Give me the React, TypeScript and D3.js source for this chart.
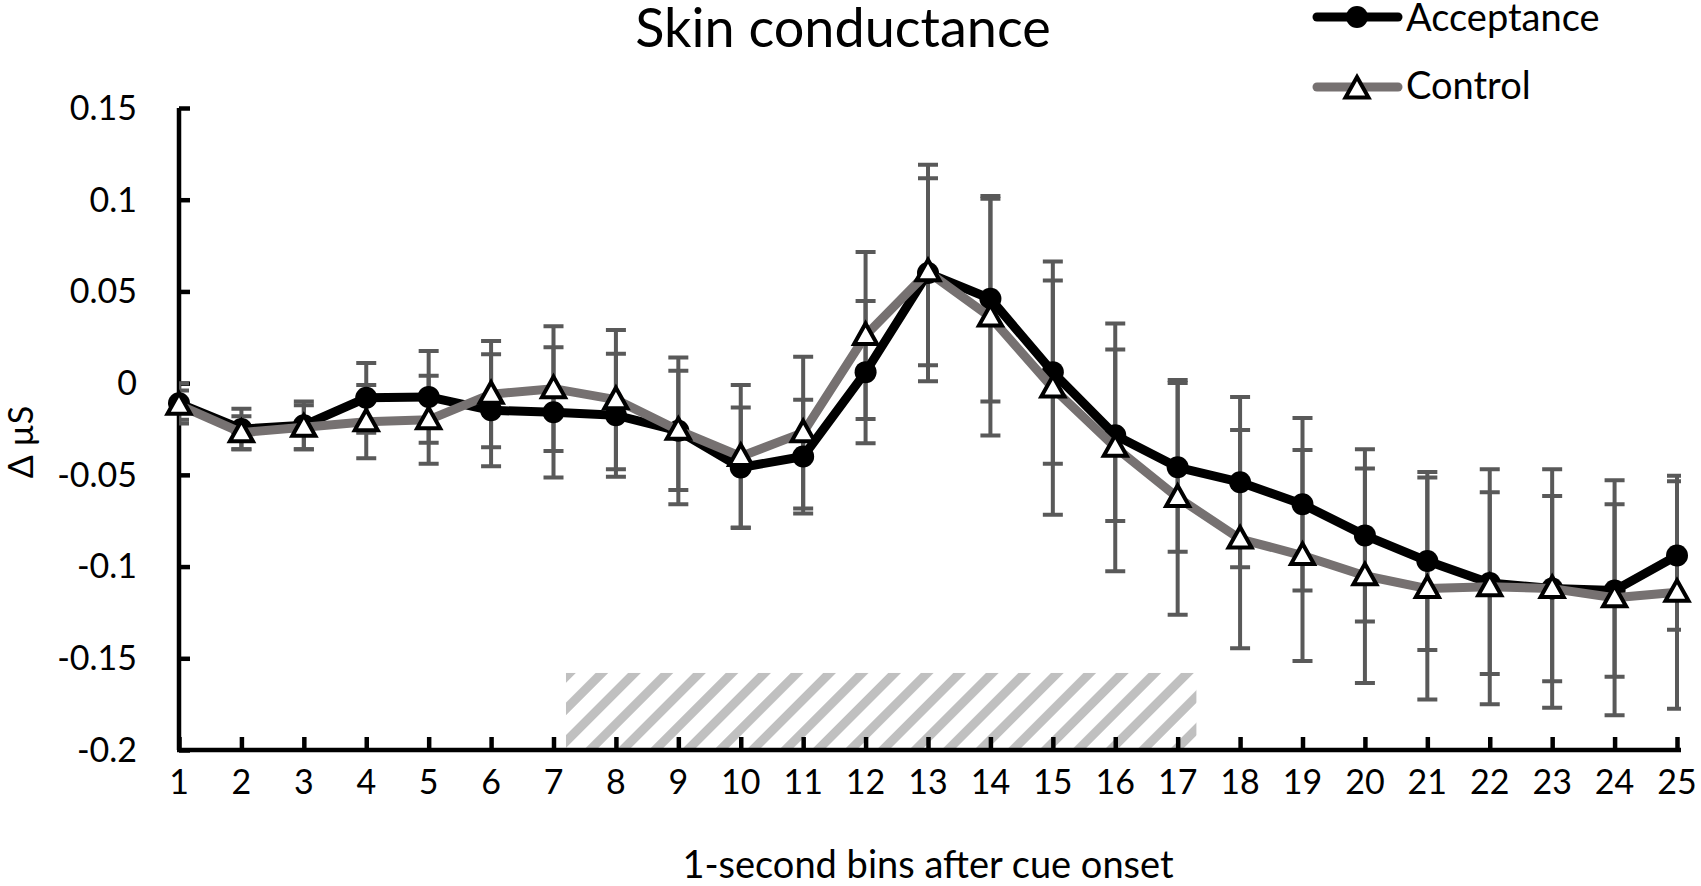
import { useEffect, useRef } from "react";
import * as d3 from "d3";

// 1-second bins after cue onset
const bins = d3.range(1, 26);
const yTicks = [0.15, 0.1, 0.05, 0, -0.05, -0.1, -0.15, -0.2];

// mean change in skin conductance (µS)
const acceptance = [
  -0.011, -0.025, -0.023, -0.008, -0.0075, -0.0148, -0.0159, -0.0175, -0.026,
  -0.046, -0.04, 0.006, 0.06, 0.046, 0.006, -0.0284, -0.0459, -0.054, -0.066,
  -0.083, -0.097, -0.109, -0.112, -0.113, -0.094,
];
const control = [
  -0.012, -0.027, -0.024, -0.021, -0.02, -0.006, -0.003, -0.009, -0.0257,
  -0.04, -0.027, 0.026, 0.0607, 0.036, -0.0027, -0.035, -0.0623, -0.085,
  -0.094, -0.105, -0.112, -0.111, -0.112, -0.117, -0.114,
];
// error bar half widths
const acceptanceErr = [
  0.011, 0.011, 0.013, 0.019, 0.025, 0.0305, 0.0355, 0.0335, 0.04, 0.0327,
  0.031, 0.0388, 0.059, 0.056, 0.05, 0.0467, 0.046, 0.0464, 0.047, 0.047,
  0.0485, 0.0495, 0.0505, 0.047, 0.0405,
];
const controlErr = [
  0.008, 0.009, 0.012, 0.02, 0.024, 0.029, 0.034, 0.038, 0.0325, 0.039,
  0.0414, 0.0455, 0.051, 0.0645, 0.069, 0.0675, 0.064, 0.0595, 0.0575, 0.0585,
  0.0605, 0.064, 0.065, 0.064, 0.0635,
];
// hatched window (bins) and its top (µS)
const hatchWindow = [7.2, 17.3];
const hatchTop = -0.158;

const FONT = "Lato, 'Open Sans', sans-serif";

const App = () => {
  const ref = useRef(null);

  useEffect(() => {
    const W = 1701;
    const H = 886;
    const svg = d3.select(ref.current).attr("width", W).attr("height", H).html("");

    const x = d3.scaleLinear().domain([1, 25]).range([179, 1677]);
    const y = d3.scaleLinear().domain([-0.2, 0.15]).range([750, 108]);

    const defs = svg.append("defs");
    const pat = defs
      .append("pattern")
      .attr("id", "hatch")
      .attr("patternUnits", "userSpaceOnUse")
      .attr("width", 23)
      .attr("height", 23)
      .attr("patternTransform", "rotate(45)");
    pat.append("rect").attr("width", 9).attr("height", 23).attr("fill", "#c0c0c0");

    defs
      .append("clipPath")
      .attr("id", "plot")
      .append("rect")
      .attr("x", x(1))
      .attr("y", 0)
      .attr("width", 1681 - x(1))
      .attr("height", H);

    svg.append("rect").attr("width", W).attr("height", H).attr("fill", "#fff");

    // hatched window
    svg
      .append("rect")
      .attr("x", x(hatchWindow[0]))
      .attr("y", y(hatchTop))
      .attr("width", x(hatchWindow[1]) - x(hatchWindow[0]))
      .attr("height", y(-0.2) - y(hatchTop))
      .attr("fill", "url(#hatch)");

    // title
    svg
      .append("text")
      .attr("x", 843)
      .attr("y", 47)
      .attr("text-anchor", "middle")
      .attr("font-family", FONT)
      .attr("font-size", 54)
      .text("Skin conductance");

    // y axis
    const yAxis = svg
      .append("g")
      .attr("transform", `translate(${x(1)},0)`)
      .call(d3.axisRight(y).tickValues(yTicks).tickSize(11).tickFormat(() => ""));
    yAxis.select(".domain").attr("d", `M0,${y(0.15)}V${y(-0.2)}`).attr("stroke", "#000").attr("stroke-width", 4.5);
    yAxis.selectAll(".tick line").attr("stroke", "#000").attr("stroke-width", 4.5);

    svg
      .append("g")
      .selectAll("text")
      .data(yTicks)
      .join("text")
      .attr("x", 137)
      .attr("y", (d) => y(d))
      .attr("dy", "0.35em")
      .attr("text-anchor", "end")
      .attr("font-family", FONT)
      .attr("font-size", 34)
      .text((d) => `${d}`);

    // x axis
    const xAxis = svg
      .append("g")
      .attr("transform", `translate(0,${y(-0.2)})`)
      .call(d3.axisTop(x).tickValues(bins).tickSize(13).tickFormat(() => ""));
    xAxis.select(".domain").attr("d", `M${x(1) - 2},0H1681`).attr("stroke", "#000").attr("stroke-width", 4.5);
    xAxis.selectAll(".tick line").attr("stroke", "#000").attr("stroke-width", 4.5);

    svg
      .append("g")
      .selectAll("text")
      .data(bins)
      .join("text")
      .attr("x", (d) => x(d))
      .attr("y", 794)
      .attr("text-anchor", "middle")
      .attr("font-family", FONT)
      .attr("font-size", 34)
      .text((d) => d);

    svg
      .append("text")
      .attr("x", 928)
      .attr("y", 878)
      .attr("text-anchor", "middle")
      .attr("font-family", FONT)
      .attr("font-size", 38)
      .text("1-second bins after cue onset");

    svg
      .append("text")
      .attr("transform", "translate(33,442) rotate(-90)")
      .attr("text-anchor", "middle")
      .attr("font-family", FONT)
      .attr("font-size", 34)
      .text("Δ µS");

    // error bars
    const plot = svg.append("g").attr("clip-path", "url(#plot)");
    const errData = [
      ...acceptance.map((m, i) => ({ b: bins[i], m, e: acceptanceErr[i] })),
      ...control.map((m, i) => ({ b: bins[i], m, e: controlErr[i] })),
    ];
    const eb = plot.append("g").attr("stroke", "#595959").attr("stroke-width", 4).attr("fill", "none");
    errData.forEach((d) => {
      const cx = x(d.b);
      const hi = y(d.m + d.e);
      const lo = y(d.m - d.e);
      eb.append("path").attr("d", `M${cx},${hi}V${lo}M${cx - 10},${hi}H${cx + 10}M${cx - 10},${lo}H${cx + 10}`);
    });

    const line = d3
      .line<number>()
      .x((_, i) => x(bins[i]))
      .y((d) => y(d));

    const tri = "M0,-12L11.5,8.5L-11.5,8.5Z";

    // acceptance
    svg
      .append("path")
      .attr("d", line(acceptance))
      .attr("fill", "none")
      .attr("stroke", "#000")
      .attr("stroke-width", 9)
      .attr("stroke-linejoin", "round");
    svg
      .append("g")
      .selectAll("circle")
      .data(acceptance)
      .join("circle")
      .attr("cx", (_, i) => x(bins[i]))
      .attr("cy", (d) => y(d))
      .attr("r", 11)
      .attr("fill", "#000");

    // control
    svg
      .append("path")
      .attr("d", line(control))
      .attr("fill", "none")
      .attr("stroke", "#767171")
      .attr("stroke-width", 9)
      .attr("stroke-linejoin", "round");
    svg
      .append("g")
      .selectAll("path")
      .data(control)
      .join("path")
      .attr("d", tri)
      .attr("transform", (d, i) => `translate(${x(bins[i])},${y(d)})`)
      .attr("fill", "#fff")
      .attr("stroke", "#000")
      .attr("stroke-width", 4);

    // legend
    const lg = svg.append("g");
    lg.append("line")
      .attr("x1", 1317)
      .attr("x2", 1398)
      .attr("y1", 17)
      .attr("y2", 17)
      .attr("stroke", "#000")
      .attr("stroke-width", 9)
      .attr("stroke-linecap", "round");
    lg.append("circle").attr("cx", 1357).attr("cy", 17).attr("r", 11).attr("fill", "#000");
    lg.append("text")
      .attr("x", 1406)
      .attr("y", 31)
      .attr("font-family", FONT)
      .attr("font-size", 38)
      .text("Acceptance");

    lg.append("line")
      .attr("x1", 1317)
      .attr("x2", 1398)
      .attr("y1", 87)
      .attr("y2", 87)
      .attr("stroke", "#767171")
      .attr("stroke-width", 9)
      .attr("stroke-linecap", "round");
    lg.append("path")
      .attr("d", tri)
      .attr("transform", "translate(1357,89)")
      .attr("fill", "#fff")
      .attr("stroke", "#000")
      .attr("stroke-width", 4);
    lg.append("text")
      .attr("x", 1406)
      .attr("y", 99)
      .attr("font-family", FONT)
      .attr("font-size", 38)
      .text("Control");
  }, []);

  return (
    <div style={{ position: "absolute", left: 0, top: 0 }}>
      <svg ref={ref} width={1701} height={886} style={{ display: "block" }}></svg>
    </div>
  );
};

export default App;
